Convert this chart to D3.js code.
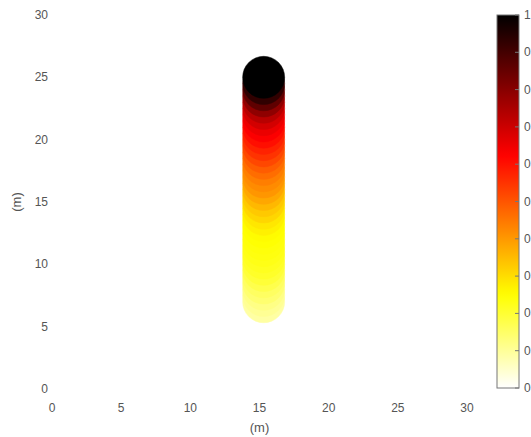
<!DOCTYPE html>
<html>
<head>
<meta charset="utf-8">
<script src="https://cdn.jsdelivr.net/npm/d3@7"></script>
<style>
  body { margin: 0; background: #fff; }
  svg { display: block; font-family: "Liberation Sans", Arial, sans-serif; }
</style>
</head>
<body>
<div id="chart"></div>
<script>
/* Column of filled markers coloured by a reversed "hot" colormap */

// point positions (m) and their colour values
const xPos = 15.3;
const yPos = [7, 7.5, 8, 8.5, 9, 9.5, 10, 10.5, 11, 11.5, 12, 12.5, 13, 13.5, 14, 14.5,
              15, 15.5, 16, 16.5, 17, 17.5, 18, 18.5, 19, 19.5, 20, 20.5, 21, 21.5,
              22, 22.5, 23, 23.5, 24, 24.5, 25];
const values = [0.09, 0.105, 0.12, 0.14, 0.155, 0.175, 0.195, 0.21, 0.22, 0.228, 0.235, 0.24,
                0.248, 0.255, 0.27, 0.285, 0.31, 0.33, 0.355, 0.38, 0.405, 0.42, 0.44, 0.465,
                0.49, 0.52, 0.55, 0.575, 0.605, 0.63, 0.655, 0.69, 0.73, 0.79, 0.86, 0.93, 1.0];

const xTicks = [0, 5, 10, 15, 20, 25, 30];
const yTicks = [0, 5, 10, 15, 20, 25, 30];
const cbTicks = [0, 0.1, 0.2, 0.3, 0.4, 0.5, 0.6, 0.7, 0.8, 0.9, 1];

const width = 531, height = 437;
const plot = { left: 52, right: 467, top: 15, bottom: 389 };
const cb = { left: 497, right: 519 };
const textColor = "#555";

// hot colormap, flipped so 0 = white and 1 = black
function hotRev(v) {
    const t = 1 - Math.max(0, Math.min(1, v));
    const r = Math.min(1, t / 0.375),
          g = Math.max(0, Math.min(1, (t - 0.375) / 0.375)),
          b = Math.max(0, Math.min(1, (t - 0.75) / 0.25));
    return d3.rgb(r * 255, g * 255, b * 255).toString();
}

let svg = d3.select("#chart")
    .append("svg")
    .attr("width", width)
    .attr("height", height);

let x = d3.scaleLinear().domain([0, 30]).range([plot.left, plot.right]);
let y = d3.scaleLinear().domain([0, 30]).range([plot.bottom, plot.top]);

// markers, drawn bottom to top
const pts = yPos.map((d, i) => ({ y: d, v: values[i] }));
svg.append("g")
    .selectAll("circle")
    .data(pts)
    .join("circle")
    .attr("cx", x(xPos))
    .attr("cy", d => y(d.y))
    .attr("r", 21)
    .attr("fill", d => hotRev(d.v))
    .attr("stroke", d => hotRev(d.v))
    .attr("stroke-width", 0.5);

// tick labels only, no axis lines
svg.append("g")
    .selectAll("text")
    .data(xTicks)
    .join("text")
    .attr("x", d => x(d))
    .attr("y", 412)
    .attr("text-anchor", "middle")
    .attr("font-size", 12)
    .attr("fill", textColor)
    .text(d => d);

svg.append("g")
    .selectAll("text")
    .data(yTicks)
    .join("text")
    .attr("x", 48)
    .attr("y", d => y(d) + 4)
    .attr("text-anchor", "end")
    .attr("font-size", 12)
    .attr("fill", textColor)
    .text(d => d);

svg.append("text")
    .attr("x", x(15))
    .attr("y", 432)
    .attr("text-anchor", "middle")
    .attr("font-size", 13)
    .attr("fill", textColor)
    .text("(m)");

svg.append("text")
    .attr("transform", `translate(21,${y(15)}) rotate(-90)`)
    .attr("text-anchor", "middle")
    .attr("font-size", 13)
    .attr("fill", textColor)
    .text("(m)");

// colorbar
let c = d3.scaleLinear().domain([0, 1]).range([plot.bottom - 1, plot.top]);

let grad = svg.append("defs").append("linearGradient")
    .attr("id", "cbgrad")
    .attr("x1", 0).attr("x2", 0).attr("y1", 1).attr("y2", 0);
grad.selectAll("stop")
    .data(d3.range(0, 1.0001, 0.02))
    .join("stop")
    .attr("offset", d => d)
    .attr("stop-color", d => hotRev(d));

svg.append("rect")
    .attr("x", cb.left)
    .attr("y", c(1))
    .attr("width", cb.right - cb.left)
    .attr("height", c(0) - c(1))
    .attr("fill", "url(#cbgrad)")
    .attr("stroke", "#777")
    .attr("stroke-width", 1);

svg.append("g")
    .selectAll("line")
    .data(cbTicks)
    .join("line")
    .attr("x1", cb.right - 4)
    .attr("x2", cb.right)
    .attr("y1", d => c(d))
    .attr("y2", d => c(d))
    .attr("stroke", "#777");

// labels run off the right edge, as in the reference
svg.append("g")
    .selectAll("text")
    .data(cbTicks)
    .join("text")
    .attr("x", 524)
    .attr("y", d => c(d) + 4)
    .attr("font-size", 12)
    .attr("fill", textColor)
    .text(d => d);
</script>
</body>
</html>
